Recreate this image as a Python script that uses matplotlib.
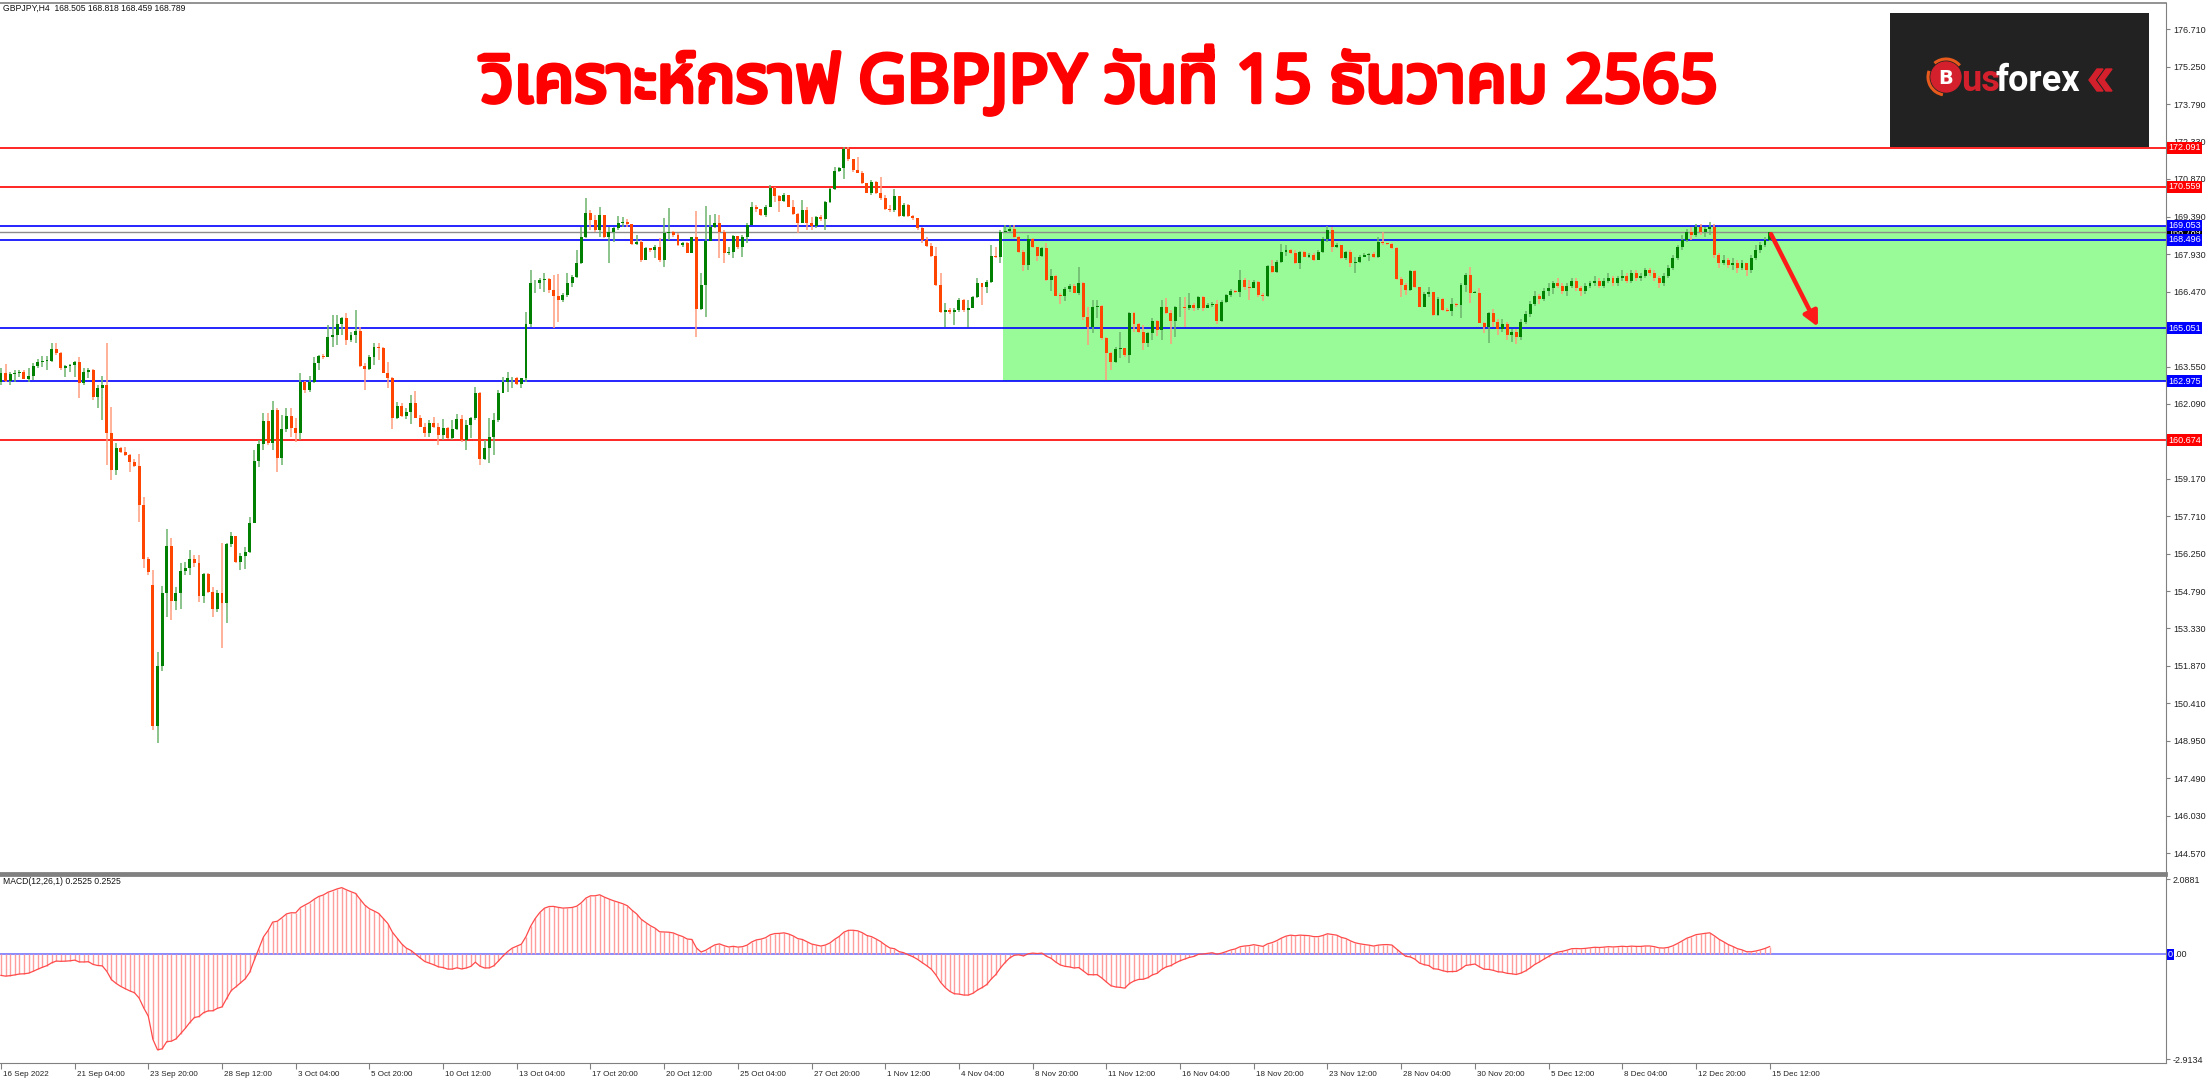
import numpy as np
import matplotlib
matplotlib.use("Agg")
import matplotlib.pyplot as plt
import matplotlib.transforms as mtransforms
import matplotlib.patheffects as pe
from matplotlib import font_manager as fm
from matplotlib.ft2font import FT2Font
from matplotlib.patches import Rectangle, Circle, Arc, Polygon

W, H = 2209, 1080

# ---------------- data ----------------
header = "GBPJPY,H4  168.505 168.818 168.459 168.789"
macd_header = "MACD(12,26,1) 0.2525 0.2525"
title = "วิเคราะห์กราฟ GBPJPY วันที่ 15 ธันวาคม 2565"

x_labels = ["16 Sep 2022", "21 Sep 04:00", "23 Sep 20:00", "28 Sep 12:00", "3 Oct 04:00",
            "5 Oct 20:00", "10 Oct 12:00", "13 Oct 04:00", "17 Oct 20:00", "20 Oct 12:00",
            "25 Oct 04:00", "27 Oct 20:00", "1 Nov 12:00", "4 Nov 04:00", "8 Nov 20:00",
            "11 Nov 12:00", "16 Nov 04:00", "18 Nov 20:00", "23 Nov 12:00", "28 Nov 04:00",
            "30 Nov 20:00", "5 Dec 12:00", "8 Dec 04:00", "12 Dec 20:00", "15 Dec 12:00"]
bars_per_label = 16

open_first = 162.96
gap_opens = {33: 155.03}

closes = [
    163.29, 162.99, 163.26, 163.31, 163.35, 163.08, 163.18, 163.57, 163.74, 163.77,
    163.78, 164.24, 164.07, 163.48, 163.57, 163.62, 163.74, 162.90, 163.35, 163.42,
    162.38, 162.70, 162.83, 160.95, 159.52, 160.36, 160.23, 160.10, 159.84, 159.67,
    158.15, 156.03, 155.55, 149.53, 151.87, 154.70, 156.56, 154.40, 154.73, 155.57,
    155.68, 156.03, 155.87, 154.60, 155.44, 154.77, 154.08, 154.70, 154.31, 156.63,
    156.95, 155.91, 156.16, 156.32, 157.46, 159.85, 160.54, 161.44, 160.58, 161.84,
    159.97, 161.10, 161.62, 161.14, 160.95, 162.96, 162.63, 162.96, 163.68, 163.96,
    163.94, 164.72, 164.78, 165.21, 165.43, 164.59, 164.78, 164.95, 163.57, 163.44,
    163.94, 164.33, 164.26, 163.31, 163.09, 161.53, 162.01, 161.62, 161.77, 162.14,
    161.53, 161.21, 160.95, 161.34, 161.18, 160.88, 161.14, 160.75, 161.10, 161.52,
    160.69, 161.27, 161.53, 162.51, 159.94, 160.36, 160.82, 161.47, 162.51, 162.96,
    163.09, 163.12, 162.87, 163.09, 165.21, 166.80, 166.82, 166.93, 166.95, 166.54,
    166.32, 166.15, 166.34, 166.80, 167.06, 167.58, 168.62, 169.53, 169.27, 168.88,
    169.46, 168.62, 168.81, 168.94, 169.14, 169.20, 169.11, 168.32, 168.42, 167.71,
    168.16, 168.10, 168.23, 167.71, 168.75, 168.80, 168.68, 168.29, 168.36, 167.99,
    168.59, 165.80, 166.73, 168.45, 168.98, 169.14, 168.81, 167.97, 168.03, 168.64,
    168.23, 168.62, 169.07, 169.79, 169.69, 169.46, 169.79, 170.50, 170.21, 170.02,
    170.24, 169.79, 169.50, 169.16, 169.66, 169.16, 169.04, 169.37, 169.30, 169.98,
    170.47, 171.19, 171.29, 172.03, 171.64, 171.22, 171.12, 170.70, 170.34, 170.77,
    170.34, 170.12, 169.69, 169.66, 170.21, 169.43, 169.85, 169.43, 169.33, 168.94,
    168.49, 168.26, 167.86, 166.73, 165.69, 165.76, 165.69, 165.76, 166.15, 165.76,
    165.82, 166.28, 166.80, 166.64, 166.86, 167.86, 167.84, 168.81, 168.85, 168.93,
    168.59, 168.03, 167.51, 168.52, 168.23, 167.87, 168.16, 166.93, 167.08, 166.32,
    166.30, 166.56, 166.69, 166.43, 166.82, 165.47, 165.08, 165.89, 165.91, 164.65,
    164.07, 163.74, 164.22, 164.26, 164.00, 165.65, 165.21, 164.91, 164.48, 164.85,
    165.34, 164.98, 165.89, 165.65, 165.34, 165.86, 165.89, 165.82, 165.95, 165.82,
    166.28, 165.82, 165.95, 165.99, 165.34, 166.08, 166.34, 166.51, 166.45, 166.93,
    166.64, 166.60, 166.86, 166.34, 166.30, 167.47, 167.25, 167.64, 168.03, 168.10,
    167.97, 167.58, 168.03, 167.84, 167.90, 167.71, 168.03, 168.52, 168.88, 168.23,
    168.29, 167.77, 168.03, 167.60, 167.64, 167.84, 167.90, 167.94, 167.81, 168.42,
    168.36, 168.32, 168.16, 166.95, 166.73, 166.54, 167.29, 166.64, 165.89, 166.38,
    166.45, 165.56, 166.17, 165.76, 165.73, 165.98, 165.95, 166.73, 167.12, 166.43,
    166.43, 165.26, 165.08, 165.65, 165.30, 165.00, 165.20, 164.80, 164.90, 164.70,
    165.30, 165.60, 166.00, 166.30, 166.20, 166.50, 166.60, 166.80, 166.70, 166.50,
    166.70, 166.90, 166.60, 166.50, 166.70, 166.80, 166.90, 166.70, 166.90, 167.00,
    166.80, 167.00, 167.10, 166.90, 167.20, 167.00, 167.10, 167.30, 167.20, 167.00,
    166.80, 167.10, 167.40, 167.80, 168.20, 168.50, 168.80, 168.70, 169.00, 168.80,
    168.90, 169.00, 167.90, 167.60, 167.70, 167.50, 167.60, 167.40, 167.60, 167.30,
    167.80, 168.10, 168.30, 168.505, 168.789]

highs = [
    163.48, 163.64, 163.35, 163.42, 163.42, 163.42, 163.48, 163.68, 163.83, 163.96,
    163.96, 164.46, 164.46, 164.13, 163.61, 163.65, 163.77, 163.94, 163.48, 163.48,
    163.44, 162.83, 163.18, 164.46, 161.96, 160.56, 160.42, 160.42, 160.14, 159.93,
    160.13, 158.45, 156.13, 155.61, 152.40, 154.99, 157.21, 156.85, 154.96, 155.87,
    155.94, 156.39, 156.20, 156.20, 155.48, 155.48, 154.96, 154.83, 156.68, 156.68,
    157.11, 156.91, 156.29, 156.52, 157.69, 160.30, 160.67, 161.73, 161.75, 162.21,
    161.92, 161.66, 161.92, 161.95, 161.53, 163.29, 163.00, 163.20, 163.94, 164.00,
    164.05, 165.17, 165.56, 165.56, 165.50, 165.63, 164.91, 165.76, 165.11, 163.68,
    164.00, 164.46, 164.46, 164.30, 163.74, 163.13, 162.18, 162.12, 161.92, 162.44,
    162.61, 161.66, 161.36, 161.47, 161.60, 161.36, 161.49, 161.21, 161.47, 161.69,
    161.66, 161.47, 161.60, 162.74, 162.57, 160.69, 161.53, 161.73, 162.64, 163.13,
    163.35, 163.16, 163.16, 163.12, 165.69, 167.32, 166.93, 167.00, 167.21, 166.99,
    167.12, 167.16, 166.41, 167.19, 167.12, 168.10, 169.01, 170.12, 169.66, 169.46,
    169.79, 169.46, 169.01, 169.01, 169.42, 169.40, 169.30, 169.11, 168.68, 168.49,
    168.23, 168.16, 168.29, 168.55, 169.33, 169.72, 168.85, 168.75, 168.42, 168.42,
    168.62, 169.63, 167.19, 169.81, 169.46, 169.50, 169.46, 168.88, 168.23, 168.68,
    168.64, 168.68, 169.14, 169.98, 169.85, 169.69, 169.85, 170.63, 170.54, 170.24,
    170.31, 170.02, 170.05, 169.53, 170.05, 169.79, 169.37, 169.43, 169.46, 170.02,
    170.50, 171.32, 171.35, 172.13, 172.10, 171.64, 171.74, 171.19, 170.73, 170.83,
    170.80, 170.96, 170.24, 169.85, 170.47, 170.18, 169.95, 169.89, 169.46, 169.33,
    169.01, 168.59, 168.36, 168.23, 167.19, 166.04, 165.82, 165.82, 166.21, 166.17,
    166.15, 166.30, 166.99, 166.80, 166.93, 168.29, 168.23, 168.88, 169.07, 169.07,
    169.07, 168.65, 168.10, 168.68, 168.55, 168.16, 168.23, 168.36, 167.34, 167.12,
    166.41, 166.64, 166.77, 166.77, 167.45, 166.86, 165.89, 166.15, 166.15, 165.95,
    164.72, 164.13, 164.33, 164.91, 164.09, 165.69, 165.69, 165.24, 165.17, 164.91,
    165.43, 165.37, 166.15, 166.21, 165.76, 165.91, 166.25, 166.28, 166.41, 166.04,
    166.32, 166.30, 166.02, 166.08, 166.15, 166.15, 166.38, 166.56, 166.54, 167.32,
    166.99, 166.93, 166.93, 166.90, 166.41, 167.51, 167.71, 167.71, 168.33, 168.29,
    168.12, 168.10, 168.07, 168.06, 167.97, 167.99, 168.10, 168.62, 169.04, 169.01,
    168.38, 168.25, 168.07, 168.10, 167.84, 167.90, 167.97, 168.00, 168.03, 168.62,
    168.81, 168.39, 168.36, 168.23, 167.03, 166.80, 167.32, 167.32, 166.67, 166.47,
    166.64, 166.43, 166.28, 166.21, 165.82, 166.21, 166.02, 166.80, 167.19, 167.45,
    166.51, 166.60, 165.30, 165.69, 165.80, 165.40, 165.40, 165.30, 165.00, 165.00,
    165.40, 165.70, 166.10, 166.50, 166.40, 166.60, 166.80, 166.90, 167.00, 166.80,
    166.80, 167.00, 167.00, 166.70, 166.80, 166.90, 167.10, 167.00, 167.00, 167.20,
    167.10, 167.10, 167.30, 167.20, 167.30, 167.30, 167.20, 167.40, 167.40, 167.30,
    167.10, 167.20, 167.50, 167.90, 168.30, 168.70, 168.90, 169.00, 169.10, 169.10,
    169.00, 169.20, 169.10, 168.00, 167.90, 167.80, 167.80, 167.70, 167.70, 167.60,
    167.90, 168.30, 168.40, 168.60, 168.818]

lows = [
    162.83, 162.96, 162.83, 162.96, 163.16, 163.05, 162.96, 163.03, 163.48, 163.55,
    163.42, 163.74, 164.00, 163.42, 163.16, 163.35, 163.16, 162.31, 162.83, 163.09,
    162.25, 161.92, 161.47, 159.71, 159.12, 159.32, 160.17, 160.07, 159.45, 159.65,
    157.50, 155.68, 155.42, 149.37, 148.85, 151.69, 153.79, 153.66, 154.05, 154.08,
    155.42, 155.42, 155.74, 154.38, 154.31, 154.70, 153.79, 153.99, 152.56, 153.56,
    156.52, 155.87, 155.61, 155.64, 156.26, 157.46, 159.64, 160.30, 160.50, 160.30,
    159.45, 159.71, 161.01, 160.82, 160.62, 160.69, 162.50, 162.55, 162.90, 163.42,
    163.85, 163.94, 164.33, 164.39, 164.78, 164.39, 164.52, 164.46, 163.55, 162.64,
    163.42, 163.61, 163.81, 163.29, 162.70, 161.10, 161.49, 161.60, 161.49, 161.31,
    161.53, 161.18, 160.82, 160.82, 161.14, 160.49, 160.69, 160.71, 160.69, 161.08,
    160.62, 160.30, 160.75, 161.47, 159.71, 159.90, 159.78, 160.10, 161.40, 162.51,
    162.57, 162.70, 162.83, 162.70, 162.96, 165.11, 166.41, 166.56, 166.47, 166.41,
    165.04, 165.30, 166.08, 166.28, 166.67, 166.99, 167.55, 168.55, 168.88, 168.80,
    168.62, 168.55, 167.58, 168.42, 168.88, 169.01, 169.01, 168.29, 168.29, 167.64,
    167.71, 168.03, 167.77, 167.64, 167.45, 168.49, 168.62, 168.25, 168.23, 167.97,
    167.97, 164.69, 165.76, 165.50, 168.46, 168.94, 167.77, 167.60, 167.90, 167.77,
    168.12, 167.84, 168.36, 169.07, 169.59, 169.43, 169.37, 169.76, 169.98, 169.59,
    169.98, 169.76, 169.46, 168.75, 169.14, 168.88, 168.88, 168.94, 169.24, 168.88,
    169.95, 170.44, 171.16, 170.86, 171.58, 171.16, 171.09, 170.66, 170.31, 170.24,
    170.28, 170.05, 169.66, 169.59, 169.59, 169.37, 169.37, 169.37, 169.27, 168.88,
    168.39, 168.23, 167.84, 166.69, 165.65, 165.11, 165.60, 165.17, 165.69, 165.69,
    165.11, 165.82, 166.21, 165.95, 166.41, 166.80, 167.77, 167.58, 168.75, 168.75,
    168.55, 167.97, 167.29, 167.32, 168.16, 167.67, 167.84, 166.90, 166.51, 166.30,
    165.99, 166.12, 166.47, 166.41, 166.34, 165.37, 164.39, 164.87, 165.43, 164.59,
    163.03, 163.42, 163.68, 163.87, 163.94, 163.70, 164.91, 164.85, 164.20, 164.33,
    164.59, 164.74, 164.59, 165.60, 164.43, 164.72, 165.47, 165.11, 165.76, 165.73,
    165.76, 165.73, 165.82, 165.89, 165.21, 165.30, 166.04, 166.25, 166.41, 166.28,
    166.54, 166.15, 166.60, 166.28, 166.12, 166.28, 167.19, 167.19, 167.58, 167.87,
    167.94, 167.55, 167.34, 167.81, 167.77, 167.68, 167.90, 167.97, 168.42, 168.03,
    168.16, 167.73, 167.71, 167.45, 167.19, 167.58, 167.81, 167.68, 167.77, 167.77,
    168.29, 168.28, 168.12, 166.93, 166.28, 166.34, 166.51, 166.60, 165.86, 165.86,
    166.28, 165.52, 165.52, 165.73, 165.69, 165.52, 165.89, 165.43, 166.47, 166.04,
    166.41, 165.24, 164.87, 164.46, 165.10, 164.80, 164.90, 164.60, 164.50, 164.45,
    164.60, 165.20, 165.50, 165.90, 166.00, 166.10, 166.30, 166.40, 166.60, 166.40,
    166.30, 166.60, 166.50, 166.30, 166.40, 166.60, 166.70, 166.60, 166.60, 166.80,
    166.70, 166.70, 166.90, 166.80, 166.80, 166.90, 166.90, 167.00, 167.10, 166.90,
    166.60, 166.70, 167.00, 167.30, 167.70, 168.10, 168.40, 168.50, 168.60, 168.70,
    168.60, 168.70, 167.80, 167.40, 167.50, 167.40, 167.30, 167.20, 167.30, 167.10,
    167.20, 167.70, 168.00, 168.20, 168.459]

# horizontal levels drawn on the chart
red_levels = [172.091, 170.559, 160.674]
blue_levels = [169.053, 168.496, 165.051, 162.975]
last_price = 168.789

# green zone (from bar index to the right edge) and the forecast arrow
zone_start_bar = 218
zone_top, zone_bottom = 169.053, 162.975
arrow_start = (384.3, 168.72)
arrow_end = (394.5, 165.10)

price_ticks = [176.710, 175.250, 173.790, 172.330, 170.870, 169.390, 167.930, 166.470,
               163.550, 162.090, 159.170, 157.710, 156.250, 154.790, 153.330, 151.870,
               150.410, 148.950, 147.490, 146.030, 144.570]
macd_ticks = [2.0881, -2.9134]
ema_seed = (163.87, 164.45)   # EMA12 / EMA26 before the first visible bar


# ---------------- fonts ----------------
def thai_family():
    found = []
    for f in fm.fontManager.ttflist:
        try:
            cmap = FT2Font(f.fname).get_charmap()
        except Exception:
            continue
        if 0x0E27 in cmap and 0x0E2B in cmap:
            found.append(f.name)
    for pref in ["Noto Sans Thai", "Noto Sans Thai UI", "Noto Sans Thai Looped",
                 "Noto Sans", "Tlwg Typo", "Garuda", "Loma"]:
        if pref in found:
            return pref
    return found[0] if found else "DejaVu Sans"


thai = thai_family()
small_font = ["Liberation Sans", "DejaVu Sans"]

# ---------------- prepare ----------------
c = np.array(closes)
hi = np.array(highs)
lo = np.array(lows)
o = np.r_[open_first, c[:-1]]
for k, v in gap_opens.items():
    o[k] = v
hi = np.maximum(hi, np.maximum(o, c))
lo = np.minimum(lo, np.minimum(o, c))
x = np.arange(len(c))
up = c >= o

# MACD(12,26,1)
a12, a26 = 2 / 13, 2 / 27
e12, e26 = ema_seed
macd = []
for v in c:
    e12 = e12 + a12 * (v - e12)
    e26 = e26 + a26 * (v - e26)
    macd.append(e12 - e26)
macd = np.array(macd)

# ---------------- figure ----------------
fig = plt.figure(figsize=(W / 100, H / 100), dpi=100)
fig.patch.set_facecolor("white")


def fx(px):
    return px / W


def fy(py):
    return 1 - py / H


AX_R = 2166
ax = fig.add_axes([0, fy(873), fx(AX_R), (873 - 3) / H])
ax2 = fig.add_axes([0, fy(1063), fx(AX_R), (1063 - 875) / H])

xmax = AX_R / 4.606 - 0.2
for a in (ax, ax2):
    a.set_xlim(-0.2, xmax)
    a.spines["left"].set_visible(False)
    for s in ("top", "right", "bottom"):
        a.spines[s].set_color("#808080")
ax.spines["top"].set_linewidth(1.2)
ax.spines["bottom"].set_linewidth(2)
ax2.spines["top"].set_linewidth(2)

ax.set_ylim(143.79, 177.736)

# zone
ax.add_patch(Rectangle((zone_start_bar - 0.4, zone_bottom), xmax - zone_start_bar + 1,
                       zone_top - zone_bottom, facecolor="#98fb98", edgecolor="none", zorder=0))

# levels
for lv in red_levels:
    ax.axhline(lv, color="#ff0000", lw=1.2, zorder=1)
for lv in blue_levels:
    ax.axhline(lv, color="#0000ff", lw=1.2, zorder=1)
ax.axhline(last_price, color="#8c8c8c", lw=1.0, zorder=1)

# candles
ax.vlines(x[up], lo[up], hi[up], color="#6cb46c", lw=1.1, zorder=2)
ax.vlines(x[~up], lo[~up], hi[~up], color="#ff9c7c", lw=1.1, zorder=2)
body = np.maximum(np.abs(c - o), 0.03)
ax.bar(x, body, bottom=np.minimum(o, c), width=0.64,
       color=np.where(up, "#008000", "#ff4500"), linewidth=0, zorder=3)

# forecast arrow
ax.annotate("", xy=arrow_end, xytext=arrow_start,
            arrowprops=dict(arrowstyle="-|>", color="#ff1a1a", lw=3.2,
                            mutation_scale=22, shrinkA=0, shrinkB=0), zorder=5)

# right price scale
ax.yaxis.tick_right()
ax.set_yticks(price_ticks)
ax.set_yticklabels(["%.3f" % p for p in price_ticks], family=small_font)
ax.tick_params(axis="y", length=3, width=0.8, color="#808080", labelsize=6.5,
               labelcolor="#222222", pad=2)
ax.set_xticks([])

tr = mtransforms.blended_transform_factory(fig.transFigure, ax.transData)
price_tags = [(last_price, "#000000", 10)] + [(p, "#ff0000", 11) for p in red_levels] \
    + [(p, "#0000ff", 11) for p in blue_levels]
for lv, col, z in price_tags:
    ax.text(fx(2168), lv, "%.3f" % lv, transform=tr, color="white", fontsize=6.5,
            family=small_font, va="center", ha="left", clip_on=False, zorder=z,
            bbox=dict(facecolor=col, edgecolor="none", pad=1.0))

# MACD panel
ax2.set_ylim(-3.02, 2.21)
ax2.axhline(0, color="#8080ff", lw=1.3, zorder=1)
ax2.vlines(x, 0, macd, color="#ff9c9c", lw=1, zorder=2)
ax2.plot(x, macd, color="#ff4a4a", lw=0.9, zorder=3)
ax2.yaxis.tick_right()
ax2.set_yticks(macd_ticks)
ax2.set_yticklabels(["%.4f" % v for v in macd_ticks], family=small_font)
ax2.tick_params(axis="y", length=3, width=0.8, color="#808080", labelsize=6.5,
                labelcolor="#222222", pad=2)
tr2 = mtransforms.blended_transform_factory(fig.transFigure, ax2.transData)
ax2.text(fx(2168), 0, "0", transform=tr2, color="white", fontsize=6.5, family=small_font,
         va="center", ha="left", clip_on=False,
         bbox=dict(facecolor="#0000ff", edgecolor="none", pad=0.6))
ax2.text(fx(2173.8), 0, ".00", transform=tr2, color="#222222", fontsize=6.5,
         family=small_font, va="center", ha="left", clip_on=False)

label_bars = np.arange(len(x_labels)) * bars_per_label
ax2.set_xticks(label_bars)
ax2.set_xticklabels(x_labels, family=small_font, fontsize=5.8, ha="left", color="#222222")
ax2.tick_params(axis="x", length=4, width=0.8, color="#808080", pad=2)
shift = mtransforms.ScaledTranslation(2 / 100, 0, fig.dpi_scale_trans)
for lbl in ax2.get_xticklabels():
    lbl.set_transform(lbl.get_transform() + shift)

# texts
fig.text(fx(3), fy(8), header, fontsize=6.2, family=small_font, color="#111111",
         ha="left", va="center")
fig.text(fx(3), fy(882), macd_header, fontsize=6.2, family=small_font, color="#111111",
         ha="left", va="center")
fig.text(fx(1100), fy(102), title, fontsize=48, fontweight="bold", color="#ff0000",
         ha="center", va="baseline", family=[thai, "Noto Sans", "DejaVu Sans"],
         path_effects=[pe.withStroke(linewidth=3.2, foreground="#ff0000")])

# logo
lg = fig.add_axes([fx(1890), fy(147), (2149 - 1890) / W, (147 - 13) / H])
lg.set_xlim(0, 259)
lg.set_ylim(134, 0)
lg.set_facecolor("#222222")
lg.set_xticks([])
lg.set_yticks([])
for s in lg.spines.values():
    s.set_visible(False)
lg.add_patch(Arc((56, 64), 36, 36, theta1=100, theta2=200, color="#e85a1c", lw=2.2))
lg.add_patch(Arc((56, 64), 36, 36, theta1=230, theta2=320, color="#e85a1c", lw=2.2))
lg.add_patch(Circle((56, 64), 15, color="#d4202c"))
lg.text(56, 65, "B", color="white", fontsize=14, fontweight="bold", family="DejaVu Sans",
        ha="center", va="center")
lg.text(71, 78, "us", color="#d4202c", fontsize=26, fontweight="bold", family="Roboto",
        ha="left", va="baseline")
lg.text(106, 78, "forex", color="white", fontsize=26, fontweight="bold", family="Roboto",
        ha="left", va="baseline")
for dx in (0, 9):
    lg.add_patch(Polygon([(207 + dx, 56), (199 + dx, 67), (207 + dx, 78), (213 + dx, 78),
                          (205 + dx, 67), (213 + dx, 56)], closed=True, color="#d4202c"))

fig.savefig("out.png", dpi=100, facecolor="white")
